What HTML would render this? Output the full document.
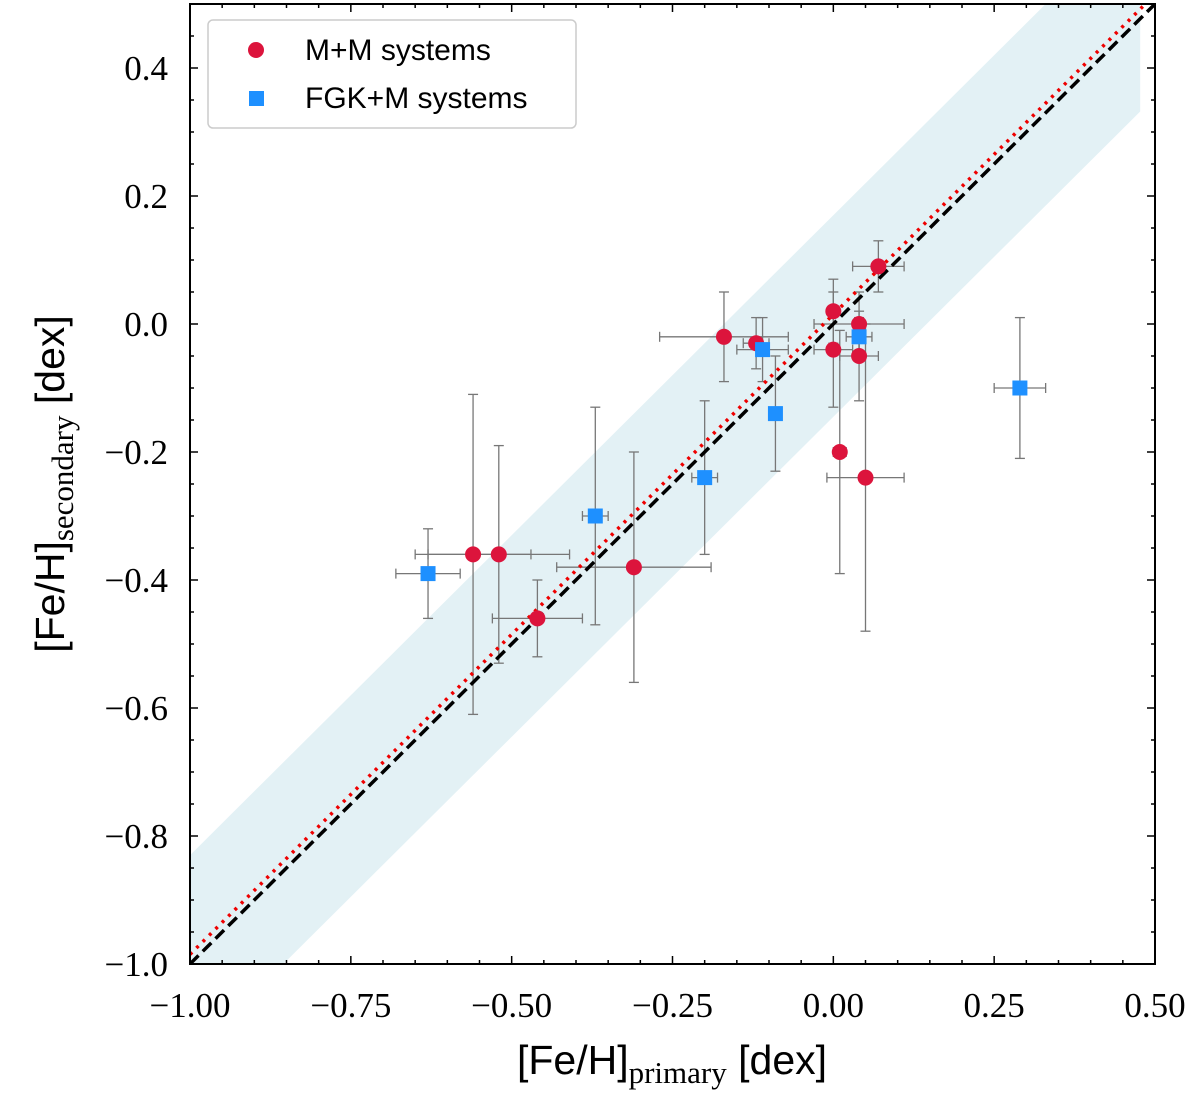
<!DOCTYPE html>
<html><head><meta charset="utf-8"><style>
body{margin:0;background:#fff}
svg text{font-family:"Liberation Serif",serif}
</style></head><body>
<svg id="chart" width="1200" height="1108" xmlns="http://www.w3.org/2000/svg"></svg>
<script>
const mmX=[0.07,0.0,0.04,-0.17,-0.12,0.0,0.04,0.01,0.05,-0.56,-0.52,-0.46,-0.31];
const mmY=[0.09,0.02,0.0,-0.02,-0.03,-0.04,-0.05,-0.2,-0.24,-0.36,-0.36,-0.46,-0.38];
const mmXe=[0.04,0.0,0.07,0.1,0.02,0.03,0.03,0.01,0.06,0.09,0.11,0.07,0.12];
const mmYe=[0.04,0.05,0.05,0.07,0.04,0.09,0.07,0.19,0.24,0.25,0.17,0.06,0.18];
const fgX=[-0.11,0.04,-0.09,-0.20,-0.37,-0.63,0.29];
const fgY=[-0.04,-0.02,-0.14,-0.24,-0.30,-0.39,-0.10];
const fgXe=[0.04,0.02,0.0,0.02,0.02,0.05,0.04];
const fgYe=[0.05,0.03,0.09,0.12,0.17,0.07,0.11];
const xTicks=[-1.0,-0.75,-0.5,-0.25,0.0,0.25,0.5];
const xLabels=["\u22121.00","\u22120.75","\u22120.50","\u22120.25","0.00","0.25","0.50"];
const yTicks=[-1.0,-0.8,-0.6,-0.4,-0.2,0.0,0.2,0.4];
const yLabels=["\u22121.0","\u22120.8","\u22120.6","\u22120.4","\u22120.2","0.0","0.2","0.4"];
const L=190,R=1155,T=4,B=964;
const sx=v=>L+(v+1)/1.5*(R-L);
const sy=v=>B-(v+1)/1.5*(B-T);
const svg=document.getElementById('chart');
const NS="http://www.w3.org/2000/svg";
function mk(tag,at,parent){const e=document.createElementNS(NS,tag);for(const k in at)e.setAttribute(k,at[k]);(parent||svg).appendChild(e);return e;}
const clip=mk('clipPath',{id:'c'});mk('rect',{x:L,y:T,width:R-L,height:B-T},clip);
const g=mk('g',{'clip-path':'url(#c)'});
const band=mk('polygon',{points:`${sx(-1)},${sy(-1+0.17)} ${sx(0.477)},${sy(0.477+0.17)} ${sx(0.477)},${sy(0.477-0.145)} ${sx(-1)},${sy(-1-0.145)}`,fill:'#e3f1f5'},g);

function errs(X,Y,Xe,Ye){for(let i=0;i<X.length;i++){const c='#777';
 if(Ye[i]>0){mk('line',{x1:sx(X[i]),x2:sx(X[i]),y1:sy(Y[i]-Ye[i]),y2:sy(Y[i]+Ye[i]),stroke:c,'stroke-width':1.3},g);
  [Y[i]-Ye[i],Y[i]+Ye[i]].forEach(v=>mk('line',{x1:sx(X[i])-5,x2:sx(X[i])+5,y1:sy(v),y2:sy(v),stroke:c,'stroke-width':1.3},g));}
 if(Xe[i]>0){mk('line',{x1:sx(X[i]-Xe[i]),x2:sx(X[i]+Xe[i]),y1:sy(Y[i]),y2:sy(Y[i]),stroke:c,'stroke-width':1.3},g);
  [X[i]-Xe[i],X[i]+Xe[i]].forEach(v=>mk('line',{x1:sx(v),x2:sx(v),y1:sy(Y[i])-5,y2:sy(Y[i])+5,stroke:c,'stroke-width':1.3},g));}}}
errs(mmX,mmY,mmXe,mmYe);errs(fgX,fgY,fgXe,fgYe);
const l1=mk('line',{x1:sx(-1),y1:sy(-1+0.015),x2:sx(0.5),y2:sy(0.5+0.015),stroke:'#e00',"stroke-width":3.5,"stroke-dasharray":"3,6"},g);

const l2=mk('line',{x1:sx(-1),y1:sy(-1),x2:sx(0.5),y2:sy(0.5),stroke:'#000',"stroke-width":3.5,"stroke-dasharray":"12,6"},g);

for(let i=0;i<mmX.length;i++){const p=mk('circle',{cx:sx(mmX[i]),cy:sy(mmY[i]),r:8,fill:'#dc143c'},g);
}
for(let i=0;i<fgX.length;i++){const p=mk('rect',{x:sx(fgX[i])-7.5,y:sy(fgY[i])-7.5,width:15,height:15,fill:'#1e90ff'},g);
}
mk('rect',{x:L,y:T,width:R-L,height:B-T,fill:'none',stroke:'#000','stroke-width':2});
for(let v=-1;v<=0.501;v+=0.05){const X=sx(v);const major=xTicks.some(t=>Math.abs(t-v)<1e-6);const len=major?8:4;
 mk('line',{x1:X,x2:X,y1:B,y2:B-len,stroke:'#000','stroke-width':1.5});mk('line',{x1:X,x2:X,y1:T,y2:T+len,stroke:'#000','stroke-width':1.5});}
for(let v=-1;v<=0.501;v+=0.05){const Y=sy(v);const major=yTicks.some(t=>Math.abs(t-v)<1e-6);const len=major?8:4;
 mk('line',{x1:L,x2:L+len,y1:Y,y2:Y,stroke:'#000','stroke-width':1.5});mk('line',{x1:R,x2:R-len,y1:Y,y2:Y,stroke:'#000','stroke-width':1.5});}
xTicks.forEach((t,i)=>{const e=mk('text',{x:sx(t),y:1017,'text-anchor':'middle','font-size':35});e.textContent=xLabels[i];
});
yTicks.forEach((t,i)=>{const e=mk('text',{x:168,y:sy(t)+12,'text-anchor':'end','font-size':35});e.textContent=yLabels[i];
});
</script>
<svg style="position:absolute;left:0;top:0" width="1200" height="1108" xmlns="http://www.w3.org/2000/svg">
<g>
<rect x="208" y="20" width="368" height="108" rx="5" fill="#fff" fill-opacity="0.85" stroke="#ccc" stroke-width="1.5"/>
<circle cx="256" cy="50" r="8" fill="#dc143c"/>
<text x="305" y="60" font-size="30" style="font-family:'Liberation Sans',sans-serif">M+M systems</text>
<rect x="249" y="91" width="15" height="15" fill="#1e90ff"/>
<text x="305" y="108" font-size="30" style="font-family:'Liberation Sans',sans-serif">FGK+M systems</text>
</g>
<text x="672" y="1074" text-anchor="middle" font-size="41" style="font-family:'Liberation Sans',sans-serif">[Fe/H]<tspan dy="9" font-size="31" style="font-family:'Liberation Serif',serif">primary</tspan><tspan dy="-9"> [dex]</tspan></text>
<text transform="translate(64,484) rotate(-90)" text-anchor="middle" font-size="41" style="font-family:'Liberation Sans',sans-serif">[Fe/H]<tspan dy="9" font-size="31" style="font-family:'Liberation Serif',serif">secondary</tspan><tspan dy="-9"> [dex]</tspan></text>
</svg>
</body></html>
